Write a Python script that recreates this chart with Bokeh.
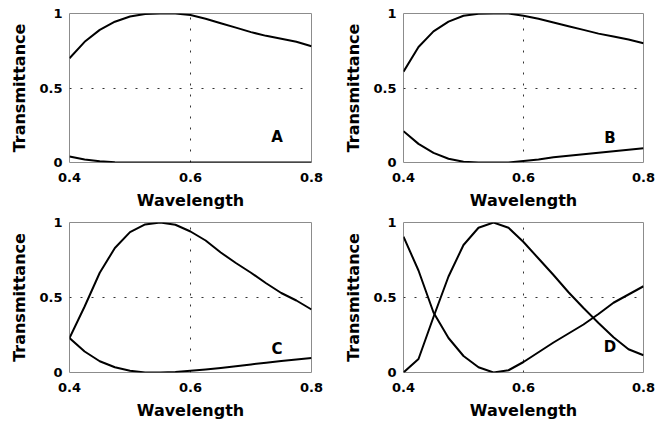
from bokeh.plotting import figure
from bokeh.layouts import column, row
from bokeh.models import Range1d, FixedTicker
from bokeh.core.properties import value
from bokeh.embed import file_html
from bokeh.resources import INLINE

# ---- data ----
wavelength = [0.4, 0.425, 0.45, 0.475, 0.5, 0.525, 0.55, 0.575, 0.6,
              0.625, 0.65, 0.675, 0.7, 0.725, 0.75, 0.775, 0.8]

a_upper = [0.70, 0.81, 0.89, 0.945, 0.98, 0.997, 1.0, 1.0, 0.99,
           0.965, 0.935, 0.905, 0.875, 0.85, 0.83, 0.81, 0.78]
a_lower = [0.04, 0.02, 0.008, 0.002, 0.0, 0.0, 0.0, 0.0, 0.0,
           0.0, 0.0, 0.0, 0.0, 0.0, 0.0, 0.0, 0.0]

b_upper = [0.61, 0.775, 0.88, 0.945, 0.985, 0.998, 1.0, 1.0, 0.985,
           0.965, 0.94, 0.915, 0.89, 0.865, 0.845, 0.825, 0.80]
b_lower = [0.21, 0.125, 0.065, 0.025, 0.005, 0.0, 0.0, 0.0, 0.01,
           0.02, 0.035, 0.045, 0.055, 0.065, 0.075, 0.085, 0.095]

c_upper = [0.23, 0.44, 0.665, 0.83, 0.936, 0.987, 1.0, 0.985, 0.94,
           0.88, 0.80, 0.73, 0.665, 0.595, 0.53, 0.48, 0.42]
c_lower = [0.23, 0.14, 0.075, 0.035, 0.012, 0.0, 0.0, 0.003, 0.012,
           0.02, 0.03, 0.042, 0.054, 0.065, 0.076, 0.086, 0.097]

d_upper = [0.0, 0.09, 0.37, 0.64, 0.85, 0.965, 1.0, 0.965, 0.87,
           0.76, 0.65, 0.535, 0.43, 0.33, 0.235, 0.155, 0.115]
d_lower = [0.905, 0.68, 0.40, 0.23, 0.11, 0.035, 0.0, 0.015, 0.07,
           0.135, 0.20, 0.26, 0.32, 0.39, 0.465, 0.52, 0.575]

panel_letters = ["A", "B", "C", "D"]
letter_x = [0.743, 0.744, 0.743, 0.744]
letter_y = [0.17, 0.166, 0.158, 0.17]

x_ticks = [0.4, 0.6, 0.8]
x_tick_labels = ["0.4", "0.6", "0.8"]
y_ticks = [0, 0.5, 1]
y_tick_labels = ["0", "0.5", "1"]

x_label = "Wavelength"
y_label = "Transmittance"

FONT = "DejaVu Sans"


def make_panel(upper, lower, letter, lx, ly, borders):
    left, right, top, bottom = borders
    p = figure(width=336, height=213, output_backend="svg", toolbar_location=None,
               x_range=Range1d(0.4, 0.8), y_range=Range1d(0, 1),
               min_border_left=left, min_border_right=right,
               min_border_top=top, min_border_bottom=bottom)
    p.background_fill_color = "white"
    p.border_fill_color = "white"
    p.outline_line_color = "#8c8c8c"
    p.outline_line_width = 1

    p.xaxis.ticker = FixedTicker(ticks=x_ticks)
    p.yaxis.ticker = FixedTicker(ticks=y_ticks)
    p.xaxis.major_label_overrides = dict(zip(x_ticks, x_tick_labels))
    p.yaxis.major_label_overrides = dict(zip(y_ticks, y_tick_labels))

    for ax in (p.xaxis[0], p.yaxis[0]):
        ax.axis_line_color = None
        ax.major_tick_in = 0
        ax.major_tick_out = 0
        ax.minor_tick_in = 0
        ax.minor_tick_out = 0
        ax.major_label_text_font = FONT
        ax.major_label_text_font_style = "bold"
        ax.major_label_text_font_size = "13px"
        ax.major_label_text_color = "black"
        ax.axis_label_text_font = FONT
        ax.axis_label_text_font_style = "bold"
        ax.axis_label_text_font_size = "16px"
        ax.axis_label_text_color = "black"

    p.xaxis.axis_label = x_label
    p.yaxis.axis_label = y_label
    p.xaxis.major_label_standoff = 10
    p.yaxis.major_label_standoff = 7
    p.xaxis.axis_label_standoff = 6
    p.yaxis.axis_label_standoff = 7

    p.xgrid.ticker = FixedTicker(ticks=[0.6])
    p.ygrid.ticker = FixedTicker(ticks=[0.5])
    for g in (p.xgrid[0], p.ygrid[0]):
        g.grid_line_color = "#333333"
        g.grid_line_dash = "2 9"
        g.grid_line_width = 1

    p.line(wavelength, upper, line_color="black", line_width=2, line_join="round")
    p.line(wavelength, lower, line_color="black", line_width=2, line_join="round")

    p.text(x=[lx], y=[ly], text=[letter], text_font=value(FONT),
           text_font_style="bold", text_font_size="15px", text_color="black",
           text_align="center", text_baseline="middle")
    return p


pA = make_panel(a_upper, a_lower, panel_letters[0], letter_x[0], letter_y[0], (69, 25, 12, 51))
pB = make_panel(b_upper, b_lower, panel_letters[1], letter_x[1], letter_y[1], (67, 29, 13, 49))
pC = make_panel(c_upper, c_lower, panel_letters[2], letter_x[2], letter_y[2], (69, 25, 7, 54))
pD = make_panel(d_upper, d_lower, panel_letters[3], letter_x[3], letter_y[3], (67, 29, 9, 54))

layout = column(row(pA, pB), row(pC, pD))

open("out.html", "w").write(file_html(layout, INLINE))
